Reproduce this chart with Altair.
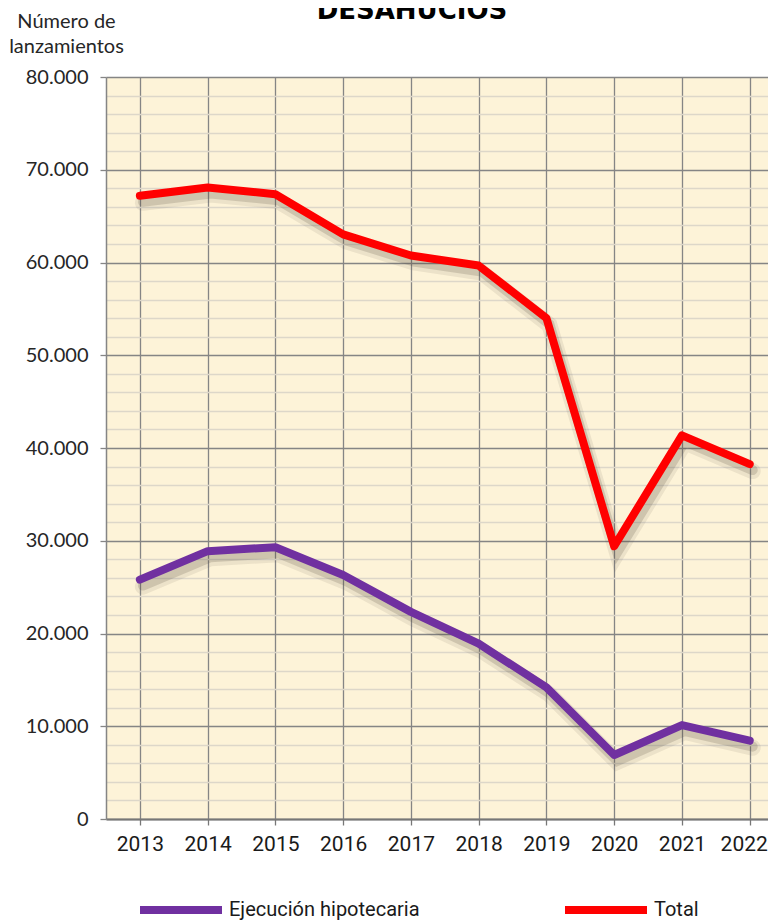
import altair as alt
import pandas as pd

years = [2013, 2014, 2015, 2016, 2017, 2018, 2019, 2020, 2021, 2022]
ejecucion = [25811, 28877, 29300, 26300, 22330, 18900, 14193, 6900, 10130, 8450]
total = [67189, 68091, 67359, 63037, 60754, 59671, 54006, 29406, 41359, 38266]
series_names = ["Ejecución hipotecaria", "Total"]
series_colors = ["#7030a0", "#ff0000"]
y_ticks = list(range(0, 80001, 2000))
title_text = ["DESAHUCIOS"]

rows = []
for name, vals in zip(series_names, [ejecucion, total]):
    for yr, v in zip(years, vals):
        rows.append({"year": yr, "serie": name, "value": v})
df = pd.DataFrame(rows)
title_df = pd.DataFrame({"t": title_text})

major = "datum.value % 10000 === 0"

x_enc = alt.X(
    "year:Q",
    scale=alt.Scale(domain=[2012.5, 2022.27], nice=False, zero=False),
    axis=alt.Axis(
        values=years, format="d", title=None,
        grid=True, gridColor="#858585", gridWidth=1.3,
        domainColor="#777777", domainWidth=2,
        tickColor="#777777", tickSize=6, tickWidth=1.3,
        labelFont="Roboto", labelFontSize=21, labelColor="#1a1a1a",
        labelPadding=8,
        labelOffset={"condition": {"test": "datum.value === 2022", "value": -6}, "value": 0},
    ),
)
y_enc = alt.Y(
    "value:Q",
    scale=alt.Scale(domain=[0, 80000], nice=False),
    axis=alt.Axis(
        values=y_ticks,
        grid=True,
        gridColor={"condition": {"test": major, "value": "#858585"}, "value": "#ddd7c9"},
        gridWidth={"condition": {"test": major, "value": 1.3}, "value": 1.6},
        tickOpacity={"condition": {"test": major, "value": 1}, "value": 0},
        tickColor="#858585", tickSize=6, tickWidth=1.3,
        domainColor="#858585", domainWidth=1.5,
        labelExpr="datum.value % 10000 === 0 ? replace(format(datum.value, ','), ',', '.') : ''",
        labelFont="Lato", labelFontSize=20, labelColor="#262626", labelPadding=12,
        title=["Número de", "lanzamientos"],
        titleAngle=0, titleAlign="center", titleBaseline="alphabetic",
        titleX=-40, titleY=-50, titleFont="Lato", titleFontSize=20,
        titleFontWeight="normal", titleColor="#262626", titleLineHeight=25,
    ),
)

base = alt.Chart(df).encode(x=x_enc, y=y_enc)

shadow_wide = base.mark_line(
    strokeWidth=16, opacity=0.10, color="#5a5040", strokeCap="round",
    xOffset=3, yOffset=7,
).encode(detail="serie:N")

shadow = base.mark_line(
    strokeWidth=10, opacity=0.20, color="#5a5040", strokeCap="round",
    xOffset=3, yOffset=6,
).encode(detail="serie:N")

lines = base.mark_line(strokeWidth=8, strokeCap="round", strokeJoin="round").encode(
    color=alt.Color(
        "serie:N",
        scale=alt.Scale(domain=series_names, range=series_colors),
        legend=alt.Legend(
            title=None, orient="none", direction="horizontal",
            legendX=30, legendY=788,
            symbolType="stroke", symbolSize=6724, symbolStrokeWidth=8,
            labelFont="Roboto", labelFontSize=20, labelColor="#1a1a1a",
            labelLimit=400, labelOffset=3, columnPadding=129,
        ),
    )
)

title_mark = alt.Chart(title_df).mark_text(
    font="DejaVu Sans", fontSize=26, fontWeight="bold", color="#000000",
    align="center", baseline="alphabetic",
).encode(text="t:N", x=alt.value(306), y=alt.value(-58))

chart = alt.layer(shadow_wide, shadow, lines, title_mark).properties(
    width=662, height=742,
    autosize=alt.AutoSizeParams(type="none"),
    padding={"left": 98, "top": 69, "right": 0, "bottom": 103},
).configure(background="white").configure_view(stroke="transparent", fill="#fdf3d8")

chart.save("out.html", embed_options={"renderer": "svg", "actions": False})
